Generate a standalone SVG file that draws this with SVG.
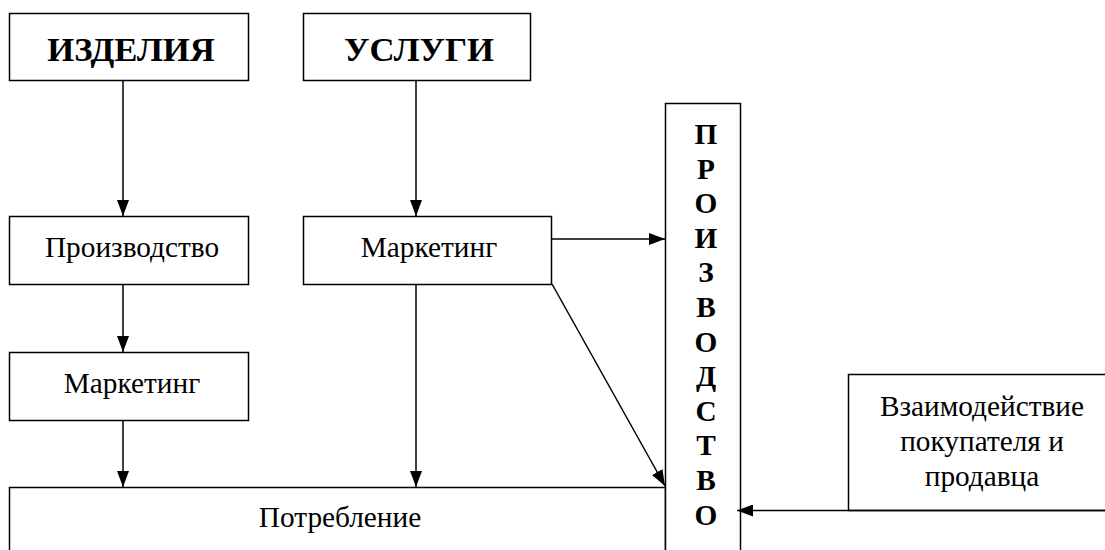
<svg xmlns="http://www.w3.org/2000/svg" width="1105" height="550" viewBox="0 0 1105 550">
<defs>
<style>
.box{fill:#fff;stroke:#000;stroke-width:1.5}
text{font-family:'Liberation Serif','Times New Roman','DejaVu Serif',serif;fill:#000;text-anchor:middle}
.t{font-size:29.3px}
.big{font-size:34.7px;font-weight:bold}
.v{font-size:29.3px;font-weight:bold}
.c{stroke:#000;stroke-width:1.5;fill:none;marker-end:url(#ah)}
</style>
<marker id="ah" markerUnits="userSpaceOnUse" viewBox="0 0 16 12" markerWidth="16" markerHeight="12" refX="16" refY="6" orient="auto">
<path d="M0,0 L16,6 L0,12 z" fill="#000"/>
</marker>
</defs>
<rect width="1105" height="550" fill="#fff"/>
<g id="izdeliya"><rect class="box" x="9.5" y="13.5" width="239" height="67"/><text class="big" x="131" y="61">ИЗДЕЛИЯ</text></g>
<g id="uslugi"><rect class="box" x="303.5" y="13.5" width="227" height="67"/><text class="big" x="419" y="61">УСЛУГИ</text></g>
<g id="proizvodstvo"><rect class="box" x="9.5" y="216.5" width="239" height="68"/><text class="t" x="132" y="257">Производство</text></g>
<g id="marketing2"><rect class="box" x="303.5" y="216.5" width="248" height="68"/><text class="t" x="429" y="257">Маркетинг</text></g>
<g id="marketing1"><rect class="box" x="9.5" y="352.5" width="239" height="68"/><text class="t" x="132" y="393">Маркетинг</text></g>
<g id="potreblenie"><rect class="box" x="9.5" y="487.5" width="656" height="80"/><text class="t" x="340" y="527">Потребление</text></g>
<g id="proizvodstvo-v"><rect class="box" x="665.5" y="103.5" width="75" height="460"/>
<text class="v" x="706" y="144">П</text>
<text class="v" x="706" y="178.6">Р</text>
<text class="v" x="706" y="213.2">О</text>
<text class="v" x="706" y="247.8">И</text>
<text class="v" x="706" y="282.4">З</text>
<text class="v" x="706" y="317">В</text>
<text class="v" x="706" y="351.6">О</text>
<text class="v" x="706" y="386.2">Д</text>
<text class="v" x="706" y="420.8">С</text>
<text class="v" x="706" y="455.4">Т</text>
<text class="v" x="706" y="490">В</text>
<text class="v" x="706" y="524.6">О</text>
</g>
<g id="vzaimodeistvie"><rect class="box" x="848.5" y="374.5" width="270" height="136"/>
<text class="t" x="982" y="416">Взаимодействие</text>
<text class="t" x="982" y="451">покупателя и</text>
<text class="t" x="982" y="486">продавца</text>
</g>
<g id="connectors">
<line class="c" x1="123" y1="81" x2="123" y2="216"/>
<line class="c" x1="416" y1="81" x2="416" y2="216"/>
<line class="c" x1="123" y1="285" x2="123" y2="352"/>
<line class="c" x1="123" y1="421" x2="123" y2="487"/>
<line class="c" x1="416" y1="285" x2="416" y2="487"/>
<line class="c" x1="552" y1="239" x2="665" y2="239"/>
<line class="c" x1="552" y1="284" x2="665" y2="486"/>
<line class="c" x1="1105" y1="510.5" x2="737" y2="510.5"/>
</g>
</svg>
